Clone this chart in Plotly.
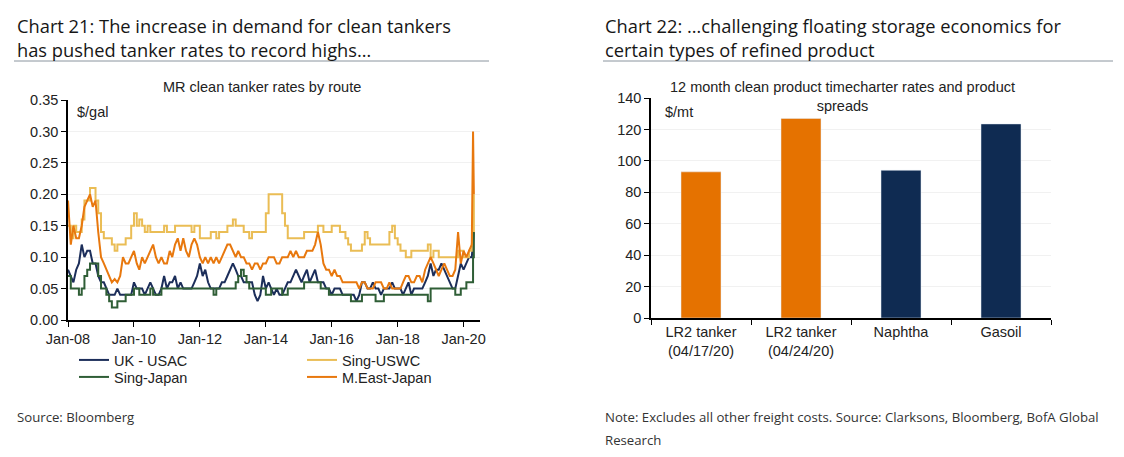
import pandas as pd
import plotly.graph_objects as go

# ---------------- data ----------------
dates = list(pd.date_range("2008-01-01", "2020-04-01", freq="MS").strftime("%Y-%m-%d")) + ["2020-04-15", "2020-04-24"]

uk_usac = [0.08, 0.07, 0.06, 0.08, 0.09, 0.12, 0.10, 0.11, 0.11, 0.09,
           0.09, 0.07, 0.06, 0.06, 0.05, 0.04, 0.04, 0.04, 0.05, 0.04,
           0.04, 0.04, 0.04, 0.04, 0.06, 0.05, 0.05, 0.05, 0.04, 0.05,
           0.06, 0.05, 0.04, 0.04, 0.05, 0.07, 0.05, 0.06, 0.06, 0.07,
           0.05, 0.06, 0.05, 0.05, 0.05, 0.05, 0.06, 0.07, 0.09, 0.07,
           0.08, 0.06, 0.05, 0.05, 0.05, 0.05, 0.06, 0.06, 0.07, 0.08,
           0.09, 0.08, 0.07, 0.07, 0.06, 0.06, 0.06, 0.06, 0.04, 0.03,
           0.04, 0.07, 0.05, 0.06, 0.05, 0.04, 0.05, 0.04, 0.04, 0.05,
           0.06, 0.06, 0.07, 0.08, 0.07, 0.06, 0.07, 0.08, 0.06, 0.07,
           0.08, 0.06, 0.06, 0.06, 0.05, 0.05, 0.04, 0.05, 0.05, 0.05,
           0.04, 0.04, 0.04, 0.04, 0.04, 0.03, 0.04, 0.06, 0.06, 0.05,
           0.05, 0.06, 0.05, 0.05, 0.04, 0.05, 0.05, 0.05, 0.06, 0.05,
           0.05, 0.05, 0.04, 0.05, 0.06, 0.04, 0.05, 0.05, 0.05, 0.05,
           0.06, 0.07, 0.09, 0.07, 0.08, 0.08, 0.09, 0.08, 0.07, 0.06,
           0.05, 0.05, 0.07, 0.09, 0.08, 0.09, 0.10, 0.10,
           0.13, 0.14]

sing_uswc = [0.15, 0.13, 0.15, 0.14, 0.14, 0.16, 0.19, 0.19, 0.21, 0.21,
             0.19, 0.17, 0.14, 0.13, 0.13, 0.13, 0.12, 0.11, 0.12, 0.12,
             0.12, 0.13, 0.13, 0.15, 0.17, 0.15, 0.16, 0.15, 0.14, 0.15,
             0.14, 0.14, 0.14, 0.14, 0.14, 0.15, 0.14, 0.14, 0.14, 0.15,
             0.15, 0.15, 0.15, 0.15, 0.15, 0.14, 0.15, 0.15, 0.13, 0.13,
             0.13, 0.13, 0.14, 0.14, 0.13, 0.14, 0.14, 0.14, 0.15, 0.15,
             0.16, 0.15, 0.15, 0.15, 0.14, 0.14, 0.13, 0.14, 0.14, 0.14,
             0.14, 0.14, 0.17, 0.20, 0.20, 0.20, 0.20, 0.20, 0.17, 0.15,
             0.13, 0.13, 0.13, 0.13, 0.13, 0.13, 0.14, 0.14, 0.14, 0.14,
             0.14, 0.15, 0.15, 0.14, 0.14, 0.14, 0.15, 0.15, 0.15, 0.14,
             0.14, 0.13, 0.12, 0.11, 0.11, 0.11, 0.11, 0.12, 0.14, 0.13,
             0.12, 0.12, 0.12, 0.12, 0.12, 0.12, 0.12, 0.14, 0.15, 0.13,
             0.12, 0.11, 0.11, 0.10, 0.10, 0.11, 0.11, 0.11, 0.11, 0.11,
             0.11, 0.12, 0.10, 0.11, 0.11, 0.10, 0.10, 0.10, 0.10, 0.10,
             0.10, 0.10, 0.11, 0.11, 0.10, 0.10, 0.11, 0.12,
             0.14, 0.20]

sing_japan = [0.07, 0.05, 0.05, 0.05, 0.04, 0.05, 0.07, 0.08, 0.09, 0.09,
              0.09, 0.07, 0.05, 0.05, 0.04, 0.03, 0.02, 0.02, 0.03, 0.03,
              0.03, 0.04, 0.04, 0.04, 0.05, 0.05, 0.04, 0.04, 0.04, 0.04,
              0.05, 0.04, 0.04, 0.04, 0.05, 0.05, 0.05, 0.05, 0.05, 0.05,
              0.05, 0.05, 0.05, 0.05, 0.05, 0.05, 0.05, 0.05, 0.05, 0.05,
              0.05, 0.05, 0.05, 0.04, 0.05, 0.05, 0.05, 0.05, 0.05, 0.05,
              0.05, 0.06, 0.07, 0.08, 0.07, 0.06, 0.05, 0.05, 0.05, 0.05,
              0.05, 0.05, 0.04, 0.04, 0.05, 0.05, 0.05, 0.05, 0.04, 0.04,
              0.05, 0.05, 0.05, 0.05, 0.05, 0.05, 0.06, 0.06, 0.06, 0.06,
              0.06, 0.06, 0.05, 0.05, 0.05, 0.04, 0.04, 0.04, 0.04, 0.04,
              0.04, 0.04, 0.04, 0.03, 0.03, 0.03, 0.03, 0.04, 0.04, 0.04,
              0.04, 0.04, 0.03, 0.03, 0.03, 0.04, 0.04, 0.04, 0.04, 0.04,
              0.04, 0.04, 0.04, 0.04, 0.04, 0.04, 0.04, 0.04, 0.04, 0.04,
              0.04, 0.03, 0.05, 0.05, 0.05, 0.05, 0.05, 0.05, 0.05, 0.05,
              0.05, 0.04, 0.04, 0.05, 0.05, 0.06, 0.06, 0.06,
              0.10, 0.14]

meast_japan = [0.19, 0.12, 0.15, 0.13, 0.13, 0.15, 0.18, 0.19, 0.20, 0.18,
               0.19, 0.14, 0.10, 0.09, 0.08, 0.07, 0.06, 0.065, 0.06, 0.07,
               0.10, 0.09, 0.09, 0.10, 0.11, 0.09, 0.08, 0.10, 0.09, 0.10,
               0.11, 0.12, 0.10, 0.09, 0.10, 0.09, 0.09, 0.11, 0.10, 0.12,
               0.13, 0.11, 0.13, 0.11, 0.10, 0.12, 0.13, 0.12, 0.10, 0.09,
               0.10, 0.09, 0.10, 0.09, 0.10, 0.09, 0.10, 0.11, 0.12, 0.12,
               0.11, 0.10, 0.11, 0.10, 0.10, 0.09, 0.09, 0.08, 0.09, 0.09,
               0.08, 0.09, 0.09, 0.10, 0.10, 0.10, 0.09, 0.09, 0.10, 0.10,
               0.10, 0.11, 0.10, 0.11, 0.10, 0.10, 0.10, 0.11, 0.11, 0.11,
               0.12, 0.14, 0.12, 0.09, 0.08, 0.08, 0.07, 0.08, 0.07, 0.07,
               0.06, 0.06, 0.06, 0.06, 0.06, 0.06, 0.05, 0.06, 0.06, 0.05,
               0.05, 0.05, 0.06, 0.06, 0.06, 0.05, 0.05, 0.06, 0.05, 0.05,
               0.05, 0.05, 0.06, 0.07, 0.07, 0.06, 0.06, 0.07, 0.07, 0.06,
               0.08, 0.09, 0.10, 0.09, 0.08, 0.07, 0.08, 0.09, 0.08, 0.07,
               0.07, 0.08, 0.14, 0.09, 0.11, 0.10, 0.11, 0.12,
               0.30, 0.20]

bar_categories = ["LR2 tanker<br>(04/17/20)", "LR2 tanker<br>(04/24/20)", "Naphtha", "Gasoil"]
bar_values = [93, 127, 94, 123.5]
bar_colors = ["#E57200", "#E57200", "#0F2B52", "#0F2B52"]

y_ticks_left = [0, 0.05, 0.10, 0.15, 0.20, 0.25, 0.30, 0.35]
y_ticks_right = [0, 20, 40, 60, 80, 100, 120, 140]

# ---------------- figure ----------------
# page body has an 8px margin; figure sized to fit the 1124x457 window
OFF = 8
W, H = 1124 - 2 * OFF, 457 - 2 * OFF
def px(x):
    return (x - OFF) / W
def py(y):
    return 1 - (y - OFF) / H

fig = go.Figure()

series = [
    ("UK - USAC", uk_usac, "#1C2E5A", "linear", "legend", 77, 360),
    ("Sing-USWC", sing_uswc, "#EABD55", "hv", "legend2", 305, 360),
    ("Sing-Japan", sing_japan, "#2F5E36", "hv", "legend3", 77, 377),
    ("M.East-Japan", meast_japan, "#E8780E", "linear", "legend4", 305, 377),
]
tick_font = dict(family="Liberation Sans, Arial, sans-serif", size=14.5, color="#222")
legend_layouts = {}
for name, vals, col, shape, leg, lx, ly in series:
    fig.add_trace(go.Scatter(x=dates, y=vals, name=name, mode="lines",
                             line=dict(color=col, width=2, shape=shape),
                             xaxis="x", yaxis="y", legend=leg))
    legend_layouts[leg] = dict(orientation="h", x=px(lx - 3), y=py(ly), xanchor="left", yanchor="middle",
                               font=tick_font, bgcolor="rgba(0,0,0,0)", borderwidth=0)

fig.add_trace(go.Bar(x=bar_categories, y=bar_values, marker_color=bar_colors,
                     width=0.4, showlegend=False, xaxis="x2", yaxis="y2"))

grid = "#F1F1F1"

fig.update_layout(
    width=W, height=H,
    margin=dict(l=0, r=0, t=0, b=0, autoexpand=False),
    paper_bgcolor="white", plot_bgcolor="white",
    font=tick_font,
    xaxis=dict(domain=[px(68), px(480)], type="date",
               range=["2008-01-01", "2020-07-01"],
               tick0="2008-01-01", dtick="M24", tickformat="%b-%y",
               showgrid=False, showline=True, linecolor="#000", linewidth=1.5,
               ticks="outside", ticklen=5, tickcolor="#000", tickfont=tick_font,
               anchor="y", automargin=False),
    yaxis=dict(domain=[py(320), py(100)], range=[0, 0.35],
               tickvals=y_ticks_left, tickformat=".2f",
               showgrid=True, gridcolor=grid, zeroline=False,
               showline=True, linecolor="#000", linewidth=1.5,
               ticks="outside", ticklen=5, tickcolor="#000", tickfont=tick_font,
               anchor="x", automargin=False),
    xaxis2=dict(domain=[px(651), px(1051)], type="category",
                range=[-0.5, 3.5], showgrid=False,
                showline=True, linecolor="#000", linewidth=1.5,
                ticks="outside", ticklen=5, tickcolor="#000", tickson="boundaries",
                tickfont=tick_font, anchor="y2", automargin=False),
    yaxis2=dict(domain=[py(318), py(98)], range=[0, 140],
                tickvals=y_ticks_right, showgrid=True, gridcolor=grid, zeroline=False,
                showline=True, linecolor="#000", linewidth=1.5,
                ticks="outside", ticklen=5, tickcolor="#000", tickfont=tick_font,
                anchor="x2", automargin=False),
    showlegend=True,
    **legend_layouts,
)

title_font = dict(family="Open Sans, Noto Sans, sans-serif", size=18.3, color="#161616")
note_font = dict(family="Open Sans, Noto Sans, sans-serif", size=13.2, color="#333")

annotations = [
    dict(x=px(15), y=py(11), text="Chart 21: The increase in demand for clean tankers", font=title_font),
    dict(x=px(15), y=py(35), text="has pushed tanker rates to record highs…", font=title_font),
    dict(x=px(603), y=py(11), text="Chart 22: …challenging floating storage economics for", font=title_font),
    dict(x=px(603), y=py(35), text="certain types of refined product", font=title_font),
    dict(x=px(15), y=py(406), text="Source: Bloomberg", font=note_font),
    dict(x=px(603), y=py(406), text="Note: Excludes all other freight costs. Source: Clarksons, Bloomberg, BofA Global", font=note_font),
    dict(x=px(603), y=py(429), text="Research", font=note_font),
]
for a in annotations:
    a.update(xref="paper", yref="paper", xanchor="left", yanchor="top", showarrow=False, align="left")
fig.update_layout(annotations=annotations)

fig.add_annotation(x=px(262), y=py(87), xref="paper", yref="paper", text="MR clean tanker rates by route",
                   showarrow=False, font=tick_font, xanchor="center", yanchor="middle")
fig.add_annotation(x=px(842), y=py(96), xref="paper", yref="paper",
                   text="12 month clean product timecharter rates and product<br>spreads",
                   showarrow=False, font=tick_font, xanchor="center", yanchor="middle")
fig.add_annotation(x=px(75), y=py(112), xref="paper", yref="paper", text="$/gal",
                   showarrow=False, font=tick_font, xanchor="left", yanchor="middle")
fig.add_annotation(x=px(663), y=py(112), xref="paper", yref="paper", text="$/mt",
                   showarrow=False, font=tick_font, xanchor="left", yanchor="middle")

fig.add_shape(type="line", xref="paper", yref="paper", x0=px(14), x1=px(489), y0=py(61), y1=py(61),
              line=dict(color="#8A949E", width=1))
fig.add_shape(type="line", xref="paper", yref="paper", x0=px(603), x1=px(1113), y0=py(61), y1=py(61),
              line=dict(color="#8A949E", width=1))

fig.write_html("out.html")
